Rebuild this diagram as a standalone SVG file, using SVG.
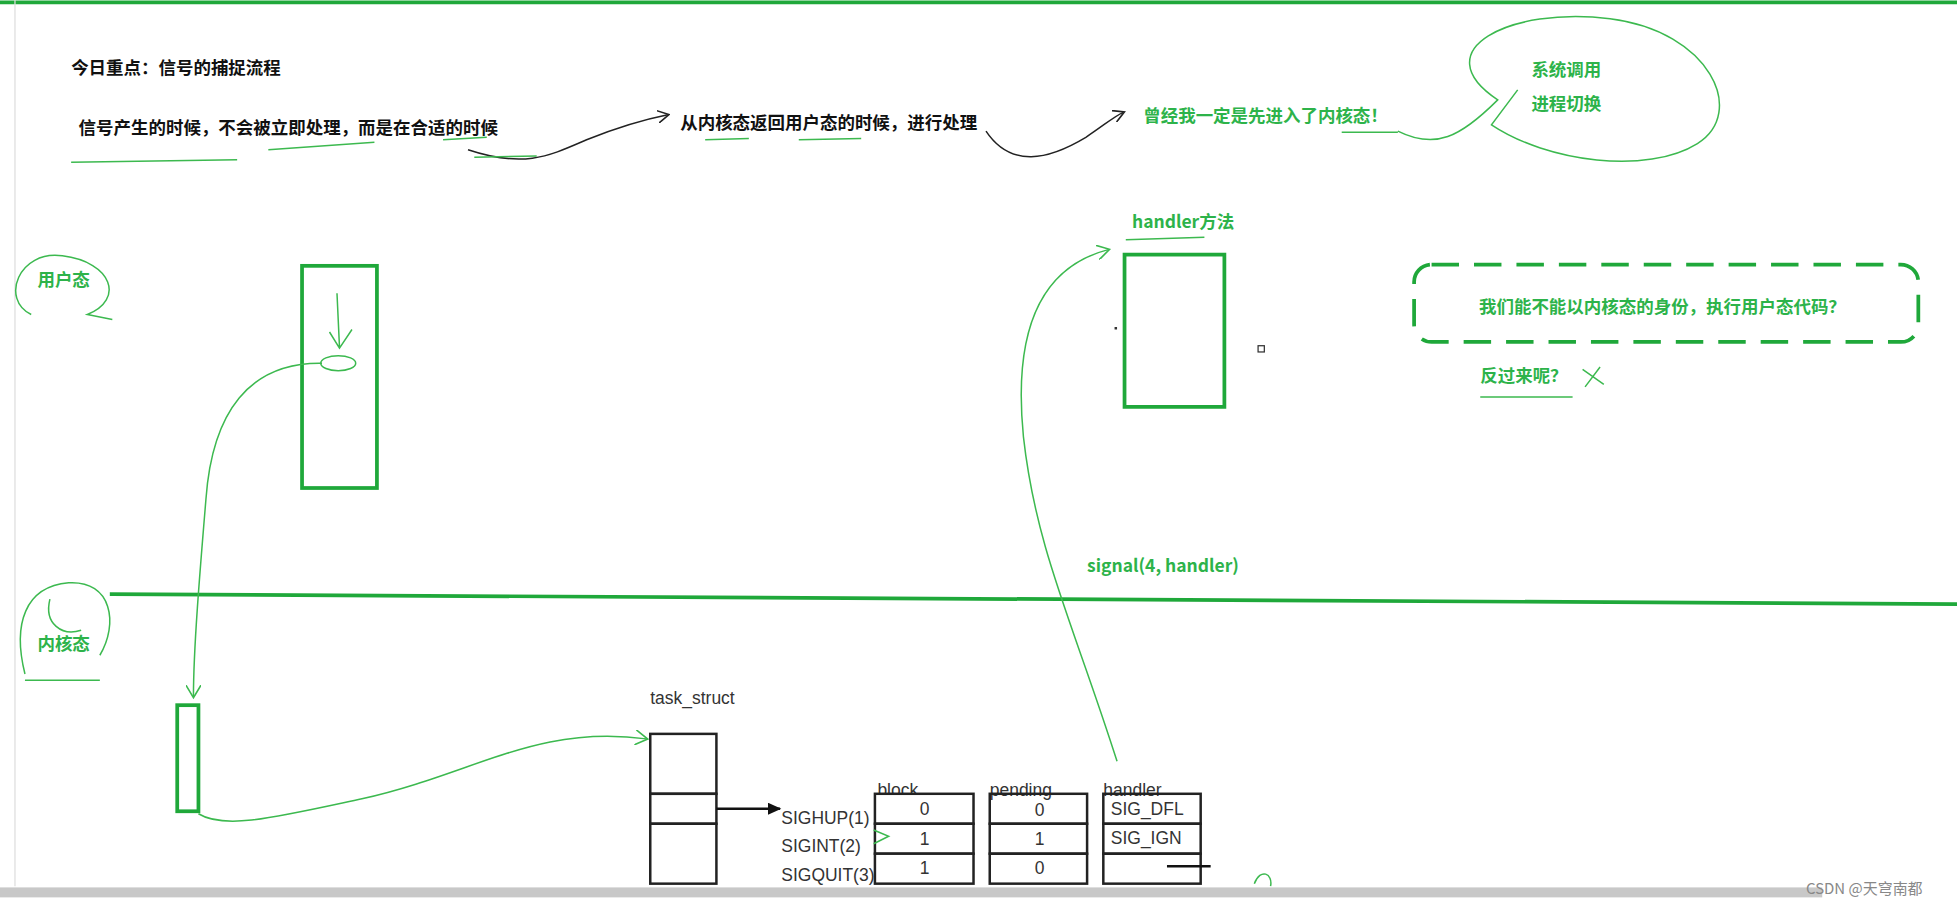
<svg xmlns="http://www.w3.org/2000/svg" width="1957" height="906" viewBox="0 0 1957 906">
<style>
.k{font-family:"Noto Sans CJK SC","Liberation Sans",sans-serif;font-weight:bold;font-size:14px;fill:#111}
.g{font-family:"Noto Sans CJK SC","Liberation Sans",sans-serif;font-weight:bold;font-size:14px;fill:#2db34a}
.t{font-family:"Liberation Sans",sans-serif;font-size:14px;fill:#333}
.gl{fill:none;stroke:#3cb94f;stroke-width:1.2}
.bx{fill:none;stroke:#1fa83a;stroke-width:3}
.tb{fill:none;stroke:#222;stroke-width:2}
</style>
<defs>
<marker id="a" markerWidth="10" markerHeight="10" refX="8" refY="5" orient="auto" markerUnits="userSpaceOnUse"><path d="M0,0 L9,5 L0,10" fill="none" stroke="#222" stroke-width="1.3"/></marker>
<marker id="ag" markerWidth="12" markerHeight="12" refX="9" refY="6" orient="auto" markerUnits="userSpaceOnUse"><path d="M0,0 L10,6 L0,12" fill="none" stroke="#3cb94f" stroke-width="1.3"/></marker>
<marker id="af" markerWidth="12" markerHeight="12" refX="10" refY="5" orient="auto" markerUnits="userSpaceOnUse"><path d="M0,0 L11,5 L0,10Z" fill="#111"/></marker>
</defs>
<rect width="1957" height="906" fill="#fff"/>
<g transform="scale(1.2481)">
<line x1="0" y1="2" x2="1568" y2="2" stroke="#1fa83a" stroke-width="3"/>
<line x1="12" y1="0" x2="12" y2="710" stroke="#ddd" stroke-width="1"/>
<g id="title"><text class="k" x="57" y="59">今日重点：信号的捕捉流程</text></g>
<g id="t1"><text class="k" x="63" y="107">信号产生的时候，不会被立即处理，而是在合适的时候</text></g>
<g id="t2"><text class="k" x="545" y="103">从内核态返回用户态的时候，进行处理</text></g>
<g id="t3"><text class="g" x="916" y="98">曾经我一定是先进入了内核态！</text></g>
<g id="sys"><text class="g" x="1227" y="61">系统调用</text><text class="g" x="1227" y="88">进程切换</text>
<path class="gl" d="M1120,105 C1150,120 1170,110 1200,80 C1140,40 1210,5 1290,15 C1370,25 1400,90 1360,115 C1320,140 1240,130 1195,100 L1216,72"/></g>
<g id="user"><text class="g" x="30" y="229">用户态</text><path class="gl" d="M25,252 C0,240 15,200 50,205 C90,210 100,240 70,252 L90,256"/></g>
<g id="kern"><text class="g" x="30" y="521">内核态</text><path class="gl" d="M20,540 C10,500 20,470 55,467 C90,465 95,500 80,525 M40,480 C35,500 50,510 65,505 M20,545 L80,545"/></g>
<g id="handlerm"><text class="g" x="907" y="183">handler方法</text><path class="gl" d="M902,192 L965,190"/><rect class="bx" x="901" y="204" width="80" height="122"/>
<rect x="893" y="262" width="2" height="2" fill="#333"/><rect x="1008" y="277" width="5" height="5" fill="none" stroke="#333"/></g>
<g id="q"><rect x="1133" y="212" width="404" height="62" rx="14" fill="none" stroke="#1fa83a" stroke-width="3" stroke-dasharray="22,12"/>
<text class="g" x="1185" y="251">我们能不能以内核态的身份，执行用户态代码？</text>
<text class="g" x="1186" y="306">反过来呢？</text><path class="gl" d="M1268,296 L1285,308 M1282,294 L1270,310"/></g>
<g id="ubox"><rect class="bx" x="242" y="213" width="60" height="178"/><path class="gl" d="M270,235 L272,278 M264,266 L272,279 L282,264"/><ellipse class="gl" cx="271" cy="291" rx="14" ry="6"/></g>
<g id="sig"><text class="g" x="871" y="458">signal(4, handler)</text></g>
<line x1="88" y1="476" x2="1568" y2="484" stroke="#1fa83a" stroke-width="3"/>
<g id="kbox"><rect class="bx" x="142" y="565" width="17" height="85"/></g>
<g id="task"><text class="t" x="521" y="564">task_struct</text>
<rect class="tb" x="521" y="588" width="53" height="48"/><rect class="tb" x="521" y="636" width="53" height="24"/><rect class="tb" x="521" y="660" width="53" height="48"/></g>
<g id="tables">
<text class="t" x="703" y="638">block</text><text class="t" x="793" y="638">pending</text><text class="t" x="884" y="638">handler</text>
<text class="t" x="626" y="660">SIGHUP(1)</text><text class="t" x="626" y="683">SIGINT(2)</text><text class="t" x="626" y="706">SIGQUIT(3)</text>
<rect class="tb" x="701" y="636" width="79" height="24" fill="#fff" style="fill:#fff"/><rect class="tb" x="701" y="660" width="79" height="24" style="fill:#fff"/><rect class="tb" x="701" y="684" width="79" height="24" style="fill:#fff"/>
<rect class="tb" x="793" y="636" width="78" height="24"/><rect class="tb" x="793" y="660" width="78" height="24"/><rect class="tb" x="793" y="684" width="78" height="24"/>
<rect class="tb" x="884" y="636" width="78" height="24"/><rect class="tb" x="884" y="660" width="78" height="24"/><rect class="tb" x="884" y="684" width="78" height="24"/>
<text class="t" x="737" y="653">0</text><text class="t" x="737" y="677">1</text><text class="t" x="737" y="700">1</text>
<text class="t" x="829" y="654">0</text><text class="t" x="829" y="677">1</text><text class="t" x="829" y="700">0</text>
<text class="t" x="890" y="653">SIG_DFL</text><text class="t" x="890" y="676">SIG_IGN</text>
<line x1="935" y1="694" x2="970" y2="694" stroke="#111" stroke-width="2"/>
</g>
<g id="connectors">
<path d="M375,120 C420,135 440,125 470,112 C500,100 520,95 535,92" fill="none" stroke="#222" stroke-width="1.2" marker-end="url(#a)"/>
<path d="M790,105 C810,135 840,128 870,110 C885,100 893,93 900,90" fill="none" stroke="#222" stroke-width="1.2" marker-end="url(#a)"/>
<path d="M574,648 L625,648" fill="none" stroke="#111" stroke-width="2" marker-end="url(#af)"/>
<path class="gl" d="M258,291 C200,290 170,330 165,400 C160,460 155,520 155,558" marker-end="url(#ag)"/>
<path class="gl" d="M159,652 C180,665 220,655 290,640 C380,620 430,580 518,592" marker-end="url(#ag)"/>
<path class="gl" d="M895,610 C860,500 830,440 820,350 C812,270 830,215 888,200" marker-end="url(#ag)"/>
<path class="gl" d="M700,665 L712,670 L700,676 M1005,708 C1010,695 1020,700 1018,710"/>
<path class="gl" d="M57,130 L190,128 M215,120 L300,114 M380,126 L430,125 M565,112 L600,111 M640,112 L690,111 M1075,106 L1120,106 M1186,318 L1260,318 M355,112 L390,110"/>
</g>
<rect x="0" y="711" width="1460" height="8" fill="#c8c8c8"/>
<text x="1447" y="716" style="font-family:'Noto Sans CJK SC','Liberation Sans',sans-serif;font-size:12px;fill:#888">CSDN @天穹南都</text>
</g>
</svg>
